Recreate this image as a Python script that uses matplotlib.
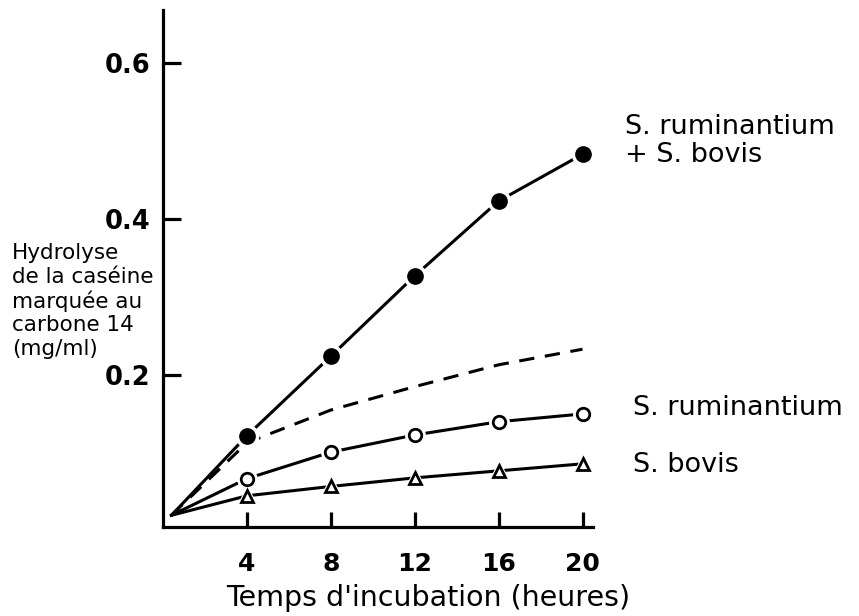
import matplotlib
matplotlib.use("Agg")
import matplotlib.pyplot as plt

# ---- data ----
hours = [4, 8, 12, 16, 20]
start_point = (0.4, 0.02)
combined = [0.122, 0.224, 0.327, 0.423, 0.483]      # S. ruminantium + S. bovis (filled circles)
expected_sum = [0.113, 0.155, 0.185, 0.213, 0.233]  # dashed curve (no markers)
ruminantium = [0.067, 0.101, 0.123, 0.140, 0.150]   # open circles
bovis = [0.045, 0.057, 0.068, 0.077, 0.086]         # open triangles

x_ticks = [4, 8, 12, 16, 20]
x_ticklabels = ["4", "8", "12", "16", "20"]
y_ticks = [0.2, 0.4, 0.6]
y_ticklabels = ["0.2", "0.4", "0.6"]

label_combined = "S. ruminantium\n+ S. bovis"
label_rum = "S. ruminantium"
label_bov = "S. bovis"
x_title = "Temps d'incubation (heures)"
y_title = "Hydrolyse\nde la caséine\nmarquée au\ncarbone 14\n(mg/ml)"

plt.rcParams['font.family'] = ['DejaVu Sans']

W, H = 859, 616
fig = plt.figure(figsize=(W / 100, H / 100), dpi=100)
fig.patch.set_facecolor("white")

left, right, bottom, top = 163, 593, 527, 10
ax = fig.add_axes([left / W, 1 - bottom / H, (right - left) / W, (bottom - top) / H])
ax.set_xlim(0, 20.5)
ax.set_ylim(0.005, 0.668)

for s in ["top", "right"]:
    ax.spines[s].set_visible(False)
for s in ["left", "bottom"]:
    ax.spines[s].set_linewidth(2.3)
    ax.spines[s].set_color("black")

ax.set_xticks(x_ticks)
ax.set_xticklabels(x_ticklabels, fontsize=18, fontweight="bold")
ax.set_yticks(y_ticks)
ax.set_yticklabels(y_ticklabels, fontsize=18.5, fontweight="bold")
ax.tick_params(axis="x", direction="in", length=11, width=2.3, pad=18)
ax.tick_params(axis="y", direction="in", length=13, width=2.3, pad=9)

def series(vals):
    return [start_point[0]] + hours, [start_point[1]] + vals

lw = 2.2
# lines
xs, ys = series(combined)
ax.plot(xs, ys, color="black", lw=lw, zorder=2, solid_capstyle="butt")
xs, ys = series(expected_sum)
ax.plot(xs, ys, color="black", lw=lw, ls=(0, (5, 3.5)), zorder=2)
xs, ys = series(ruminantium)
ax.plot(xs, ys, color="black", lw=lw, zorder=2)
xs, ys = series(bovis)
ax.plot(xs, ys, color="black", lw=lw, zorder=2)

# white halos to break the lines near the markers
ax.plot(hours, combined, ls="none", marker="o", ms=16, mfc="white", mec="white", zorder=3)
ax.plot(hours, ruminantium, ls="none", marker="o", ms=14, mfc="white", mec="white", zorder=3)
ax.plot(hours, bovis, ls="none", marker="^", ms=14, mfc="white", mec="white", zorder=3)

# markers
ax.plot(hours, combined, ls="none", marker="o", ms=11, mfc="black", mec="black", zorder=4)
ax.plot(hours, ruminantium, ls="none", marker="o", ms=9, mfc="white", mec="black", mew=2, zorder=4)
ax.plot(hours, bovis, ls="none", marker="^", ms=9, mfc="white", mec="black", mew=2, zorder=4)

# texts
fig.text(625 / W, 1 - 141 / H, label_combined, ha="left", va="center", fontsize=19.5, linespacing=1.1)
fig.text(633 / W, 1 - 408 / H, label_rum, ha="left", va="center", fontsize=19.5)
fig.text(633 / W, 1 - 465 / H, label_bov, ha="left", va="center", fontsize=19.5)
fig.text(428 / W, 1 - 598 / H, x_title, ha="center", va="center", fontsize=20.5)
fig.text(12 / W, 1 - 301 / H, y_title, ha="left", va="center", fontsize=15.5, linespacing=1.22)

fig.savefig("out.png", dpi=100, facecolor="white")
